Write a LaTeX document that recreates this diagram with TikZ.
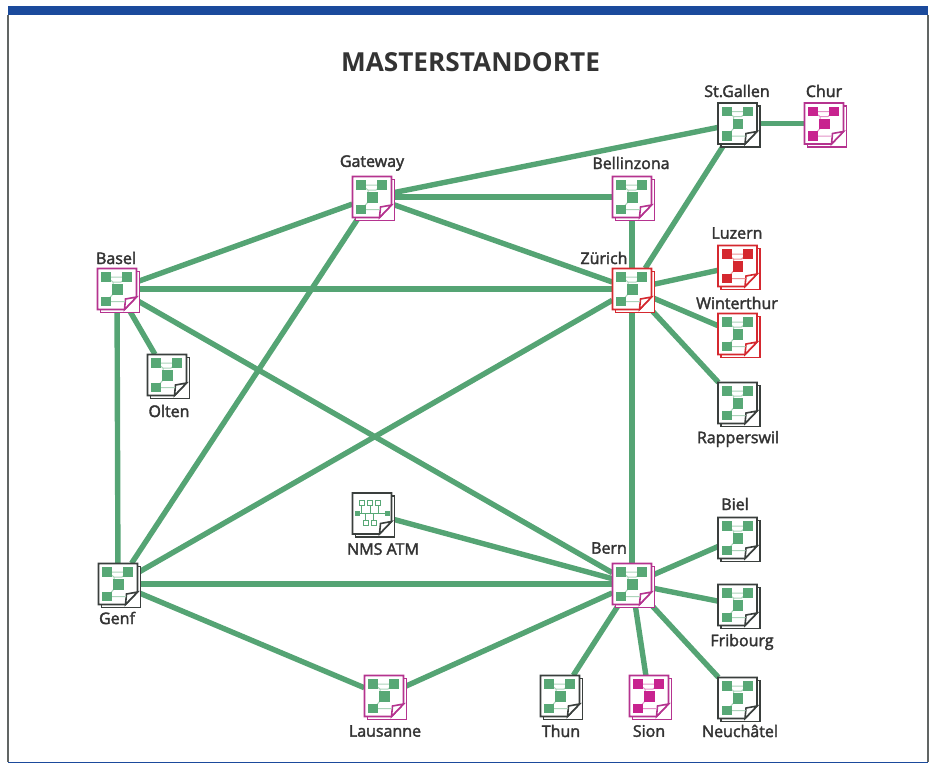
\documentclass[tikz,border=0pt]{standalone}
\usepackage{xcolor}
\usepackage{fontspec}
\setmainfont{Open Sans}
\newfontfamily\labelfont[FakeBold=2.2]{Open Sans}
\usetikzlibrary{positioning}
\definecolor{linkgreen}{HTML}{55A474}
\definecolor{sitegreen}{HTML}{58A876}
\definecolor{sitedark}{HTML}{3A3F3D}
\definecolor{sitemag}{HTML}{B5338F}
\definecolor{sitepink}{HTML}{C8238F}
\definecolor{sitered}{HTML}{D5282F}
\definecolor{bandblue}{HTML}{1B4A9C}
\definecolor{textdark}{HTML}{333333}
\pgfdeclarelayer{links}
\pgfsetlayers{links,main}
\tikzset{
  site/.style={rectangle, fill=white, inner sep=0pt, minimum width=39pt, minimum height=41pt},
  sheet/.style={draw=#1, line width=1.6pt, fill=white},
  link/.style={draw=linkgreen, line width=5.4pt},
  name tag/.style={font=\labelfont\fontsize{16}{16}\selectfont, text=textdark, inner sep=0pt}
}
% page with cut corner and fold, drawn round the named node
\newcommand{\sheets}[4]{%
  \draw[sheet=#4] ({#2-16.5},{#3-17.5}) rectangle ({#2+22.5},{#3+23.5});
  \node[site] (#1) at (#2,#3) {};
  \draw[sheet=#4] ({#2-19.5},{#3-20.5}) -- ({#2+19.5},{#3-20.5}) -- ({#2+19.5},{#3+8})
    -- ({#2+7.5},{#3+20.5}) -- ({#2-19.5},{#3+20.5}) -- cycle;
  \draw[sheet=#4] ({#2+19.5},{#3+8}) -- ({#2+8.5},{#3+10}) -- ({#2+7.5},{#3+20.5}) -- cycle;
}
\newcommand{\sitenode}[5]{%
  \sheets{#1}{#2}{#3}{#4}
  \begin{scope}[shift={(#2,#3)}]
    \draw[#5!50, line width=1pt] (-10.5,-12) -- (10,-12) (-10.5,-12) -- (-4,-7) -- (-4,5) -- (-10.5,12.5) -- (8,12.5)
      (10,-12) -- (4,-7) -- (-4,-7);
    \fill[#5] (-15.7,-17) rectangle (-5.7,-7.3);
    \fill[#5] (5.3,-17) rectangle (15,-7.3);
    \fill[#5] (-5,-4.6) rectangle (5.6,5.6);
    \fill[#5] (-15.7,7.6) rectangle (-5.7,17.1);
  \end{scope}
}
\begin{document}
\begin{tikzpicture}[x=1pt, y=-1pt]
  \useasboundingbox (0,0) rectangle (936,764);

  % frame
  \draw[sitedark!80, line width=1.2pt] (8,15) -- (8,762) (928,15) -- (928,762);
  \fill[bandblue] (8,6) rectangle (928,15);
  \draw[bandblue, line width=1.2pt] (8,762.5) -- (928,762.5);

  \node[font=\bfseries\fontsize{26.2}{26}\selectfont, text=textdark, inner sep=0pt] (title) at (470.5,62) {MASTERSTANDORTE};

  % sites
  \sitenode{stgallen}{737.5}{123.5}{sitedark}{sitegreen}
  \sitenode{chur}{824}{123.5}{sitemag}{sitepink}
  \sitenode{gateway}{372}{197}{sitemag}{sitegreen}
  \sitenode{bellinzona}{632}{197}{sitemag}{sitegreen}
  \sitenode{zurich}{632}{289}{sitered}{sitegreen}
  \sitenode{luzern}{737.5}{266}{sitered}{sitered}
  \sitenode{winterthur}{737.5}{334}{sitered}{sitegreen}
  \sitenode{rapperswil}{737.5}{403}{sitedark}{sitegreen}
  \sitenode{basel}{117}{289}{sitemag}{sitegreen}
  \sitenode{olten}{167}{375}{sitedark}{sitegreen}
  \sitenode{genf}{118}{584}{sitedark}{sitegreen}
  \sitenode{bern}{632}{584}{sitemag}{sitegreen}
  \sitenode{biel}{737.5}{538}{sitedark}{sitegreen}
  \sitenode{fribourg}{737.5}{605}{sitedark}{sitegreen}
  \sitenode{neuchatel}{737.5}{698}{sitedark}{sitegreen}
  \sitenode{sion}{649}{696}{sitemag}{sitepink}
  \sitenode{thun}{560}{696}{sitedark}{sitegreen}
  \sitenode{lausanne}{384}{696}{sitemag}{sitegreen}

  % management station
  \sheets{nms}{372}{513.5}{sitedark}
  \begin{scope}[shift={(372,513.5)}]
    \draw[sitegreen, line width=0.7pt] (-15,0) -- (15,0) (-10.5,-9) -- (-10.5,0) (-2,-9) -- (-2,0) (6,-9) -- (6,0)
      (-6.5,0) -- (-6.5,7) (1.5,0) -- (1.5,7);
    \foreach \px in {-10.5,-2,6}
      \draw[sitegreen, fill=white, line width=0.7pt] ({\px-2.5},-13) rectangle ({\px+2.5},-8);
    \foreach \px in {-6.5,1.5}
      \draw[sitegreen, fill=white, line width=0.7pt] ({\px-2.5},7) rectangle ({\px+2.5},12);
    \fill[sitegreen] (-17,-2.5) rectangle (-12,2.5);
    \fill[sitegreen] (13,-2.5) rectangle (18,2.5);
  \end{scope}

  % labels
  \node[name tag] (stgallen-tag) at (737,91) {St.Gallen};
  \node[name tag] (chur-tag) at (824,91) {Chur};
  \node[name tag] (gateway-tag) at (372,163) {Gateway};
  \node[name tag] (bellinzona-tag) at (631,163) {Bellinzona};
  \node[name tag] (basel-tag) at (116,258) {Basel};
  \node[name tag] (zurich-tag) at (604,258) {Zürich};
  \node[name tag] (luzern-tag) at (737,233) {Luzern};
  \node[name tag] (winterthur-tag) at (737,303) {Winterthur};
  \node[name tag] (rapperswil-tag) at (738,439) {Rapperswil};
  \node[name tag] (olten-tag) at (169,411) {Olten};
  \node[name tag] (genf-tag) at (117,618) {Genf};
  \node[name tag] (nms-tag) at (383,549) {NMS ATM};
  \node[name tag] (bern-tag) at (609,548) {Bern};
  \node[name tag] (biel-tag) at (735,504) {Biel};
  \node[name tag] (fribourg-tag) at (742,642) {Fribourg};
  \node[name tag] (neuchatel-tag) at (740,731) {Neuchâtel};
  \node[name tag] (sion-tag) at (649,731) {Sion};
  \node[name tag] (thun-tag) at (561,731) {Thun};
  \node[name tag] (lausanne-tag) at (385,731) {Lausanne};

  % links
  \begin{pgfonlayer}{links}
    \draw[link] (gateway) -- (stgallen);
    \draw[link] (gateway) -- (bellinzona);
    \draw[link] (gateway) -- (zurich);
    \draw[link] (gateway) -- (basel);
    \draw[link] (gateway) -- (genf);
    \draw[link] (basel) -- (zurich);
    \draw[link] (basel) -- (genf);
    \draw[link] (basel) -- (olten);
    \draw[link] (basel) -- (bern);
    \draw[link] (genf) -- (zurich);
    \draw[link] (genf) -- (bern);
    \draw[link] (genf) -- (lausanne);
    \draw[link] (lausanne) -- (bern);
    \draw[link] (nms) -- (bern);
    \draw[link] (zurich) -- (bern);
    \draw[link] (zurich) -- (bellinzona);
    \draw[link] (zurich) -- (stgallen);
    \draw[link] (zurich) -- (luzern);
    \draw[link] (zurich) -- (winterthur);
    \draw[link] (zurich) -- (rapperswil);
    \draw[link] (stgallen) -- (chur);
    \draw[link] (bern) -- (biel);
    \draw[link] (bern) -- (fribourg);
    \draw[link] (bern) -- (neuchatel);
    \draw[link] (bern) -- (sion);
    \draw[link] (bern) -- (thun);
  \end{pgfonlayer}
\end{tikzpicture}
\end{document}
